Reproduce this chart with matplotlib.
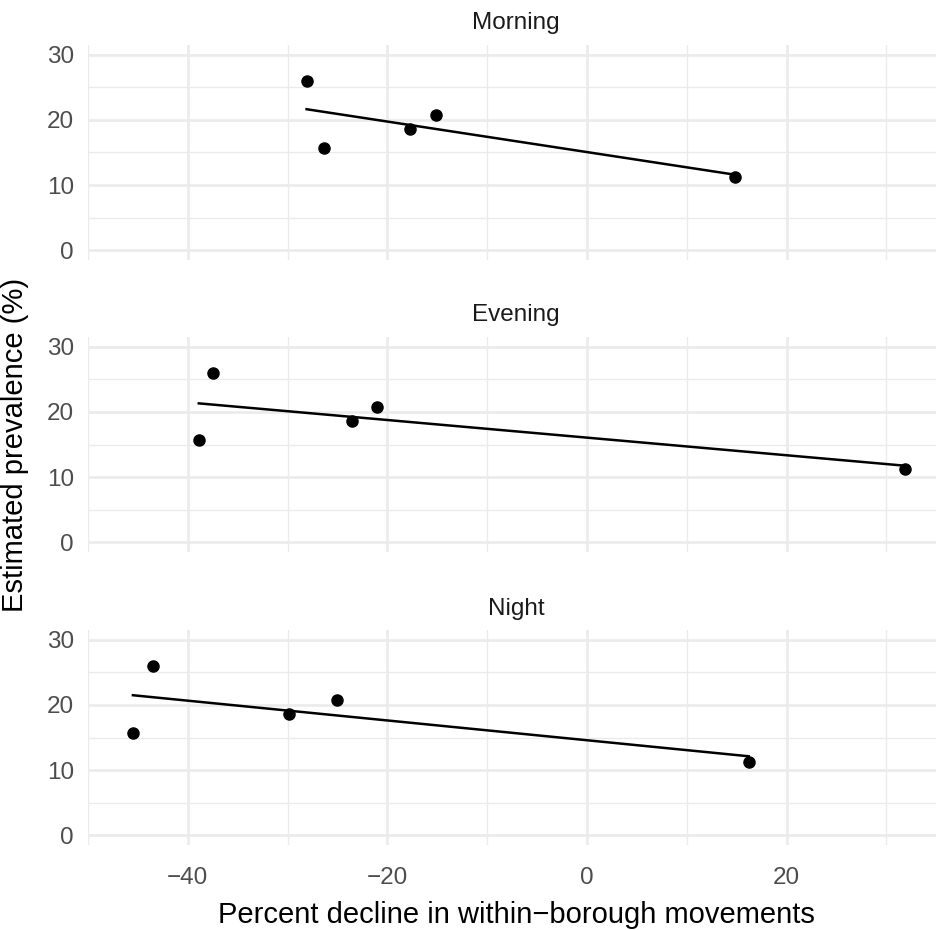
import matplotlib
matplotlib.use("Agg")
import matplotlib.pyplot as plt
import numpy as np

plt.rcParams['font.family'] = ['Liberation Sans', 'DejaVu Sans']

# data
time_periods = ["Morning", "Evening", "Night"]
prevalence = [25.9, 15.7, 18.6, 20.8, 11.3]
decline_morning = [-28.1, -26.4, -17.7, -15.1, 14.8]
decline_evening = [-37.5, -38.9, -23.5, -21.0, 31.9]
decline_night = [-43.5, -45.5, -29.9, -25.1, 16.2]
declines = [decline_morning, decline_evening, decline_night]

x_ticks = [-40, -20, 0, 20]
x_minor = [-50, -30, -10, 10, 30]
y_ticks = [0, 10, 20, 30]
y_minor = [5, 15, 25]

W, H = 936, 930
fig = plt.figure(figsize=(W / 100, H / 100), dpi=100)

# shared x range with 5% expansion like ggplot
allx = np.concatenate([np.array(d) for d in declines])
xr = allx.max() - allx.min()
xlim = (allx.min() - 0.05 * xr, allx.max() + 0.05 * xr)

left_px = 88
right_px = 944
panel_tops = [45, 337, 630]
panel_h = 215

grid_col = '#EBEBEB'

for i, (name, xs) in enumerate(zip(time_periods, declines)):
    top = panel_tops[i]
    ax = fig.add_axes([left_px / W, 1 - (top + panel_h) / H,
                       (right_px - left_px) / W, panel_h / H])
    ax.set_xlim(*xlim)
    ax.set_ylim(-1.5, 31.5)
    for s in ax.spines.values():
        s.set_visible(False)

    ax.set_xticks(x_ticks)
    ax.set_xticks(x_minor, minor=True)
    ax.set_yticks(y_ticks)
    ax.set_yticks(y_minor, minor=True)
    ax.grid(which='major', color=grid_col, lw=1.9)
    ax.grid(which='minor', color=grid_col, lw=0.95)
    ax.set_axisbelow(True)
    ax.tick_params(which='both', length=0)
    ax.tick_params(axis='y', pad=10, labelsize=17.5, labelcolor='#4D4D4D')
    ax.tick_params(axis='x', pad=16, labelsize=17.5, labelcolor='#4D4D4D')
    ax.set_xticklabels(['\u2212' + str(abs(t)) if t < 0 else str(t) for t in x_ticks])
    if i < 2:
        ax.tick_params(axis='x', labelbottom=False)

    x = np.array(xs)
    y = np.array(prevalence)
    slope, icpt = np.polyfit(x, y, 1)
    xx = np.array([x.min(), x.max()])
    ax.plot(xx, slope * xx + icpt, color='black', lw=1.8, zorder=3)
    ax.plot(x, y, 'o', color='black', ms=8, zorder=4)

    ax.text(0.5, 1 + 15.5 / panel_h, name, transform=ax.transAxes,
            ha='center', va='baseline', fontsize=17.5, color='#1A1A1A')

fig.text(516 / W, 1 - 923 / H, 'Percent decline in within\u2212borough movements',
         ha='center', va='baseline', fontsize=21)
fig.text(15 / W, 1 - 445 / H, 'Estimated prevalence (%)', rotation=90,
         ha='center', va='center', fontsize=21)

fig.savefig('out.png', dpi=100)
